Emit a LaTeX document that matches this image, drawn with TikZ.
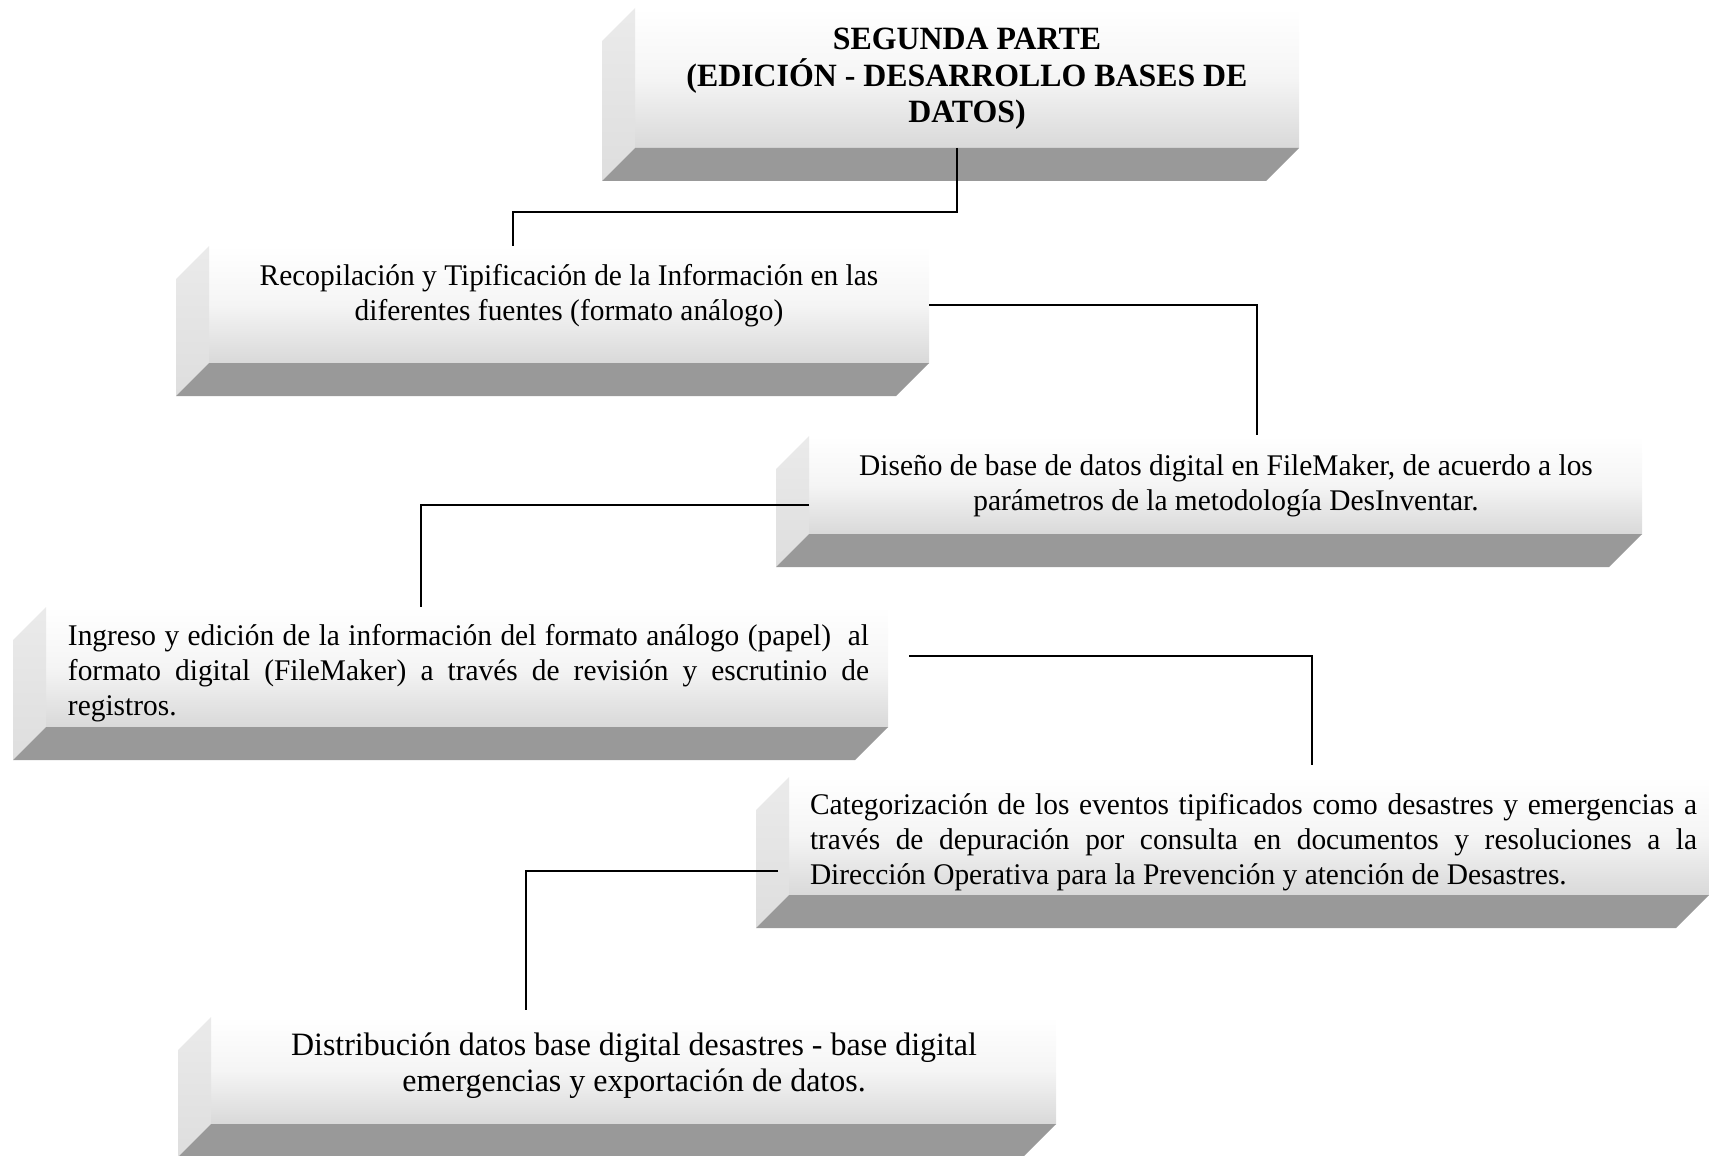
\documentclass[tikz,border=0pt]{standalone}
\usepackage{fontspec}
\setmainfont{Liberation Serif}[FakeStretch=0.98]
\usetikzlibrary{fit,calc}
\newcommand\bevelfaces[1]{%
  \shade[sideface] (#1.north west) -- ++(-33,33) -- ([shift={(-33,33)}]#1.south west) -- (#1.south west) -- cycle;
  \fill[underface] (#1.south west) -- (#1.south east) -- ++(-33,33) -- ([shift={(-33,33)}]#1.south west) -- cycle;
}
\newcommand\jline[2]{\hbox to #1{#2}}
\begin{document}
\begin{tikzpicture}[x=0.5pt,y=-0.5pt,
  frontface/.style={inner sep=0pt, outer sep=0pt, top color=white, bottom color=black!15, middle color=black!4},
  sideface/.style={top color=black!8, bottom color=black!13},
  underface/.style={fill=black!40},
  txt/.style={font=\fontsize{15}{17.5}\selectfont, inner sep=0pt},
  link/.style={line width=1pt}]
\useasboundingbox (0,0) rectangle (1709,1156);
% boxes
\node[frontface, fit={(635,8) (1299,148)}] (a) {};
\node[frontface, fit={(209,246) (929,363)}] (b) {};
\node[frontface, fit={(809,436) (1642,534)}] (c) {};
\node[frontface, fit={(46,607) (888,727)}] (d) {};
\node[frontface, fit={(789,777) (1709,895)}] (e) {};
\node[frontface, fit={(211,1017) (1056,1124)}] (f) {};
\bevelfaces{a}
\bevelfaces{b}
\bevelfaces{c}
\bevelfaces{d}
\bevelfaces{e}
\bevelfaces{f}
% texts
\node[txt, font=\fontsize{16.25}{18.2}\selectfont\bfseries, align=center] (ta) at (967,79)
  {SEGUNDA PARTE\\(EDICIÓN - DESARROLLO BASES DE\\DATOS)};
\node[txt, align=center] (tb) at (569,296)
  {Recopilación y Tipificación de la Información en las\\diferentes fuentes (formato análogo)};
\node[txt, align=center] (tc) at (1226,486)
  {Diseño de base de datos digital en FileMaker, de acuerdo a los\\parámetros de la metodología DesInventar.};
\node[txt, align=left] (td) at (468.5,673)
  {\jline{400.5pt}{Ingreso y edición de la información del formato análogo (papel) \ al}\\
   \jline{400.5pt}{formato digital (FileMaker) a través de revisión y escrutinio de}\\
   registros.};
\node[txt, align=left] (te) at (1253.5,842)
  {\jline{443.5pt}{Categorización de los eventos tipificados como desastres y emergencias a}\\
   \jline{443.5pt}{través de depuración por consulta en documentos y resoluciones a la}\\
   Dirección Operativa para la Prevención y atención de Desastres.};
\node[txt, font=\fontsize{16.3}{18}\selectfont, align=center] (tf) at (634,1066)
  {Distribución datos base digital desastres - base digital\\emergencias y exportación de datos.};
% connectors
\draw[link] ([xshift=-5pt]a.south) -- ++(0,64) -| ([xshift=-28pt]b.north);
\draw[link] (b.east) -| ([xshift=15.75pt,yshift=0.5pt]c.north);
\draw[link] ([yshift=-10pt]c.west) -| ([xshift=-23pt]d.north);
\draw[link] ([shift={(10.5pt,5.5pt)}]d.east) -| ([shift={(31.5pt,6pt)}]e.north);
\draw[link] ([shift={(-5.5pt,-17.5pt)}]e.west) -| ([shift={(-53.75pt,3.5pt)}]f.north);
\end{tikzpicture}
\end{document}
